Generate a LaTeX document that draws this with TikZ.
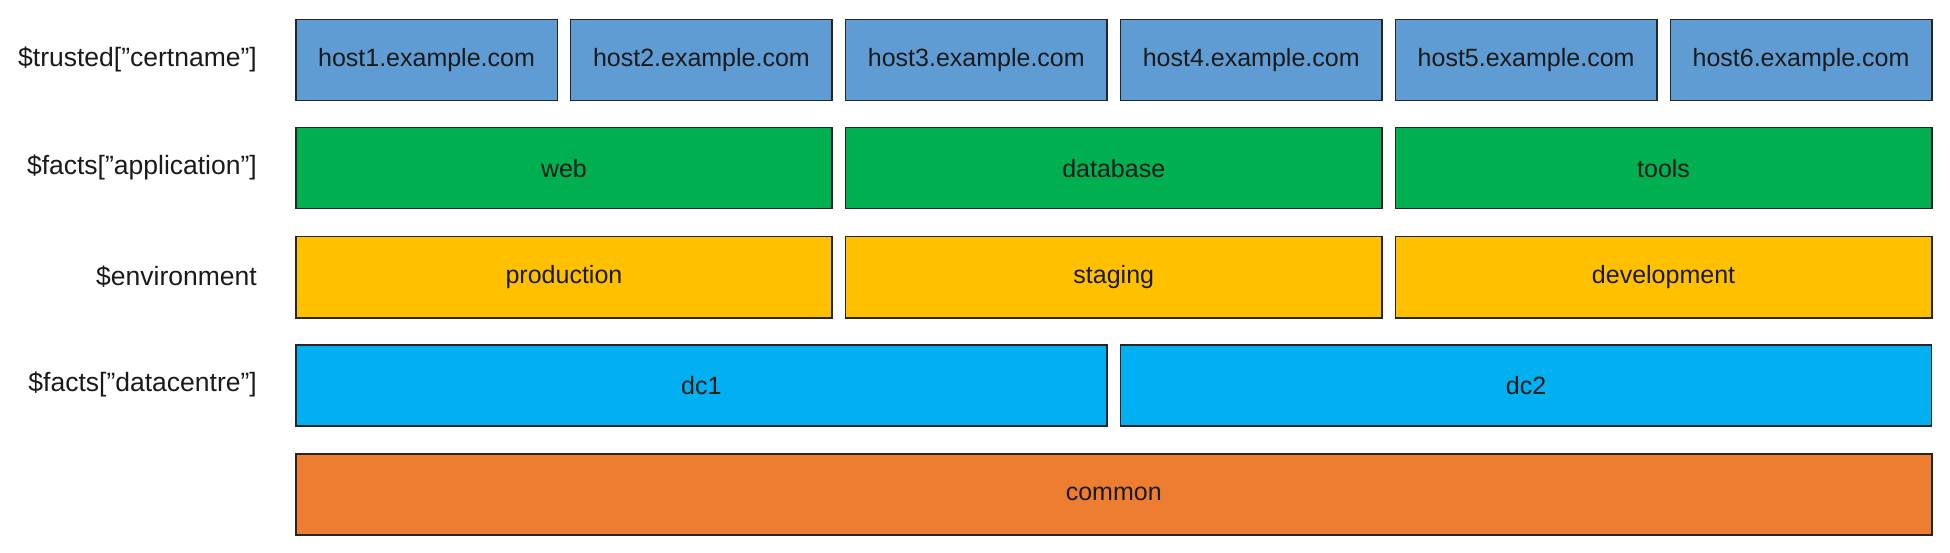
\documentclass[tikz,border=0pt]{standalone}
\usepackage{fontspec}
\setmainfont{Liberation Sans}
\definecolor{hostblue}{HTML}{5E9CD3}
\definecolor{appgreen}{HTML}{00B050}
\definecolor{envgold}{HTML}{FFC000}
\definecolor{dccyan}{HTML}{00B0F0}
\definecolor{commonorange}{HTML}{ED7D31}
\definecolor{edgecol}{HTML}{262626}
\definecolor{textcol}{HTML}{1A1A1A}
\tikzset{
  layer/.style={draw=edgecol, line width=1.5pt, anchor=north west, minimum height=81pt, inner sep=0pt, text=textcol},
  lbl/.style={anchor=east, text=textcol, inner sep=0pt, font=\fontsize{26.5}{30}\selectfont},
}
\begin{document}
\begin{tikzpicture}[x=1pt,y=-1pt,font=\fontsize{25}{30}\selectfont]
\useasboundingbox (0,0) rectangle (1950,553);
% row labels
\node[lbl] (lcert) at (257,59.5) {\$trusted[”certname”]};
\node[lbl] (lapp) at (257,167.5) {\$facts[”application”]};
\node[lbl] (lenv) at (257,276.5) {\$environment};
\node[lbl] (ldc) at (257,384.5) {\$facts[”datacentre”]};

% hosts
\foreach \i in {1,...,6}
  \node[layer, fill=hostblue, minimum width=261.5pt] (host\i) at ({295+274.9*(\i-1)},19) {host\i.example.com};

% applications
\foreach \app [count=\n from 0] in {web,database,tools}
  \node[layer, fill=appgreen, minimum width=536.4pt] (\app) at ({295+549.8*\n},127) {\app};

% environments
\foreach \env [count=\n from 0] in {production,staging,development}
  \node[layer, fill=envgold, minimum width=536.4pt] (\env) at ({295+549.8*\n},236) {\env};

% datacentres
\foreach \dc [count=\n from 0] in {dc1,dc2}
  \node[layer, fill=dccyan, minimum width=811.2pt] (\dc) at ({295+824.7*\n},344) {\dc};

\node[layer, fill=commonorange, minimum width=1636pt] (common) at (295,453) {common};
\end{tikzpicture}
\end{document}
